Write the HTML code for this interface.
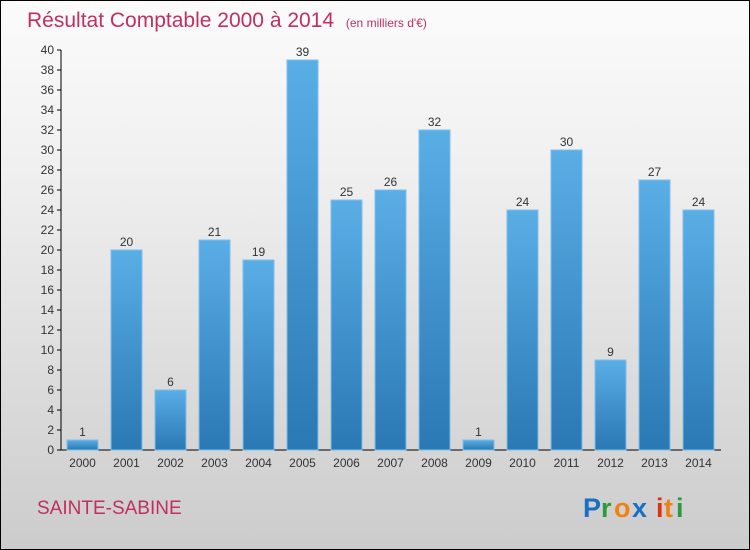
<!DOCTYPE html>
<html><head><meta charset="utf-8"><style>
body{margin:0}
#c{position:relative;width:748px;height:548px;border:1px solid #000;background:linear-gradient(#fbfbfb,#f0f0f0 30%,#cccccc);font-family:"Liberation Sans",sans-serif;overflow:hidden}
</style></head><body>
<div id="c">
<svg width="748" height="548">
<defs>
<linearGradient id="g" x1="0" y1="0" x2="0" y2="1"><stop offset="0" stop-color="#5aaee6"/><stop offset="1" stop-color="#2a78b4"/></linearGradient>
</defs>
<text x="26" y="26" font-size="21" fill="#c0305e">Résultat Comptable 2000 à 2014 <tspan font-size="12" dx="6">(en milliers d'€)</tspan></text>
<g id="plot"></g>
<text x="36" y="513" font-size="19" fill="#c0305e">SAINTE-SABINE</text>
<g font-size="27" font-weight="bold">
<text x="582" y="516" fill="#1a6fc4">P</text><text x="600" y="516" fill="#2a9a3a">r</text><text x="613" y="516" fill="#f08010">o</text><text x="631" y="516" fill="#1a6fc4">x</text><text x="655" y="516" fill="#e03010">i</text><text x="663" y="516" fill="#f08010">t</text><text x="675" y="516" fill="#2a9a3a">i</text>
</g>
</svg>
</div>
<script>
const categories=["2000","2001","2002","2003","2004","2005","2006","2007","2008","2009","2010","2011","2012","2013","2014"];
const values=[1,20,6,21,19,39,25,26,32,1,24,30,9,27,24];
const yTicks=[0,2,4,6,8,10,12,14,16,18,20,22,24,26,28,30,32,34,36,38,40];
const NS="http://www.w3.org/2000/svg";
const g=document.getElementById("plot");
const y=v=>449-v*10, x=i=>81+i*44;
function mk(t,a){const e=document.createElementNS(NS,t);for(const k in a)e.setAttribute(k,a[k]);g.appendChild(e);return e;}
const ax=mk("line",{x1:60,y1:49,x2:60,y2:449,stroke:"#000"});


const bx=mk("line",{x1:60,y1:449,x2:720,y2:449,stroke:"#000"});


yTicks.forEach(t=>{
 const l=mk("line",{x1:56,x2:60,y1:y(t),y2:y(t),stroke:"#000"});
 
 
 const tx=mk("text",{x:53,y:y(t)+4,"font-size":12,fill:"#333","text-anchor":"end"});tx.textContent=t;
 
 
});
values.forEach((v,i)=>{
 const r=mk("rect",{x:x(i)-15,y:y(v),width:31,height:v*10,fill:"url(#g)",stroke:"#7cc0ee","stroke-width":1});
 
 
 const lt=mk("text",{x:x(i)+0.5,y:y(v)-4,"font-size":12,fill:"#333","text-anchor":"middle"});lt.textContent=v;
 
 
 const ct=mk("text",{x:x(i)+0.5,y:466,"font-size":12,fill:"#333","text-anchor":"middle"});ct.textContent=categories[i];
 
 
});
</script>
</body></html>
